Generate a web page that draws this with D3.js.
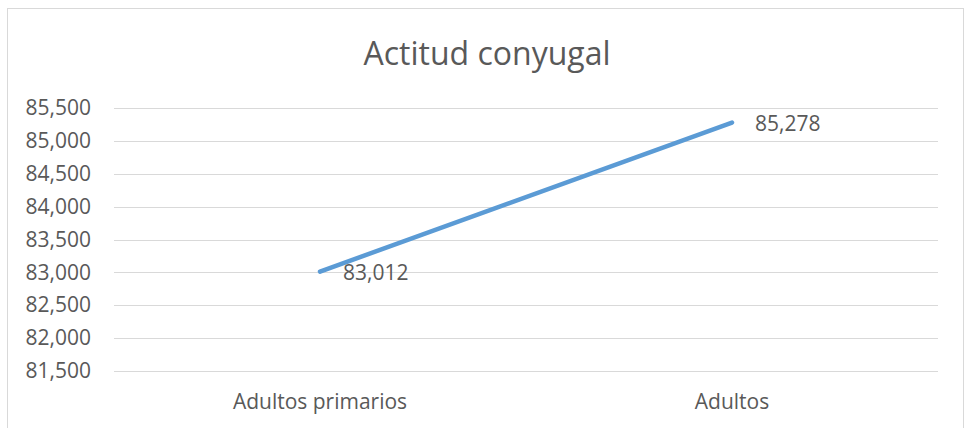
<!DOCTYPE html>
<html>
<head>
<meta charset="utf-8">
<script src="https://cdn.jsdelivr.net/npm/d3@7"></script>
<style>
  body { margin: 0; background: #fff; }
  text { font-family: "Open Sans", "Noto Sans", sans-serif; fill: #595959; }
</style>
</head>
<body>
<div id="chart"></div>
<script>
const categories = ["Adultos primarios", "Adultos"];
const values = [83.012, 85.278];
const valueLabels = ["83,012", "85,278"];
const yTicks = [81.5, 82, 82.5, 83, 83.5, 84, 84.5, 85, 85.5];
const title = "Actitud conyugal";

const width = 969, height = 428;
const margin = { top: 108, right: 31, bottom: 57, left: 114 };

const svg = d3.select("#chart").append("svg")
  .attr("width", width)
  .attr("height", height);

// chart area border
svg.append("rect")
  .attr("x", 7.5).attr("y", 8.5)
  .attr("width", 956).attr("height", 440)
  .attr("fill", "#fff")
  .attr("stroke", "#d9d9d9");

const x = d3.scaleBand()
  .domain(categories)
  .range([margin.left, width - margin.right]);

const y = d3.scaleLinear()
  .domain([81.5, 85.5])
  .range([height - margin.bottom, margin.top]);

// grid
svg.append("g")
  .selectAll("line")
  .data(yTicks)
  .enter()
  .append("line")
  .attr("x1", margin.left)
  .attr("x2", width - margin.right)
  .attr("y1", d => Math.round(y(d)) + 0.5)
  .attr("y2", d => Math.round(y(d)) + 0.5)
  .attr("stroke", "#d9d9d9")
  .attr("stroke-width", 1);

// y axis labels
const yAxis = svg.append("g")
  .attr("transform", "translate(" + (margin.left - 23) + ",0)")
  .call(d3.axisLeft(y).tickValues(yTicks).tickSize(0).tickPadding(0)
    .tickFormat(d => d3.format(",")(Math.round(d * 1000))));
yAxis.select(".domain").remove();
yAxis.selectAll("text")
  .style("font-size", "21px")
  .attr("fill", "#595959");

// x axis labels
const xAxis = svg.append("g")
  .attr("transform", "translate(0," + (height - margin.bottom) + ")")
  .call(d3.axisBottom(x).tickSize(0).tickPadding(23));
xAxis.select(".domain").remove();
xAxis.selectAll("text")
  .style("font-size", "21px")
  .attr("fill", "#595959");

// title
svg.append("text")
  .attr("x", 487)
  .attr("y", 65)
  .attr("text-anchor", "middle")
  .style("font-size", "32px")
  .text(title);

// line
const pts = categories.map((c, i) => ({ cat: c, value: values[i], label: valueLabels[i] }));
const line = d3.line()
  .x(d => x(d.cat) + x.bandwidth() / 2)
  .y(d => y(d.value));

svg.append("path")
  .datum(pts)
  .attr("fill", "none")
  .attr("stroke", "#5b9bd5")
  .attr("stroke-width", 4.5)
  .attr("stroke-linecap", "round")
  .attr("d", line);

// data labels
svg.append("g")
  .selectAll("text")
  .data(pts)
  .enter()
  .append("text")
  .attr("x", d => x(d.cat) + x.bandwidth() / 2 + 23)
  .attr("y", d => y(d.value) + 8.5)
  .style("font-size", "21px")
  .attr("fill", "#404040")
  .text(d => d.label);
</script>
</body>
</html>
